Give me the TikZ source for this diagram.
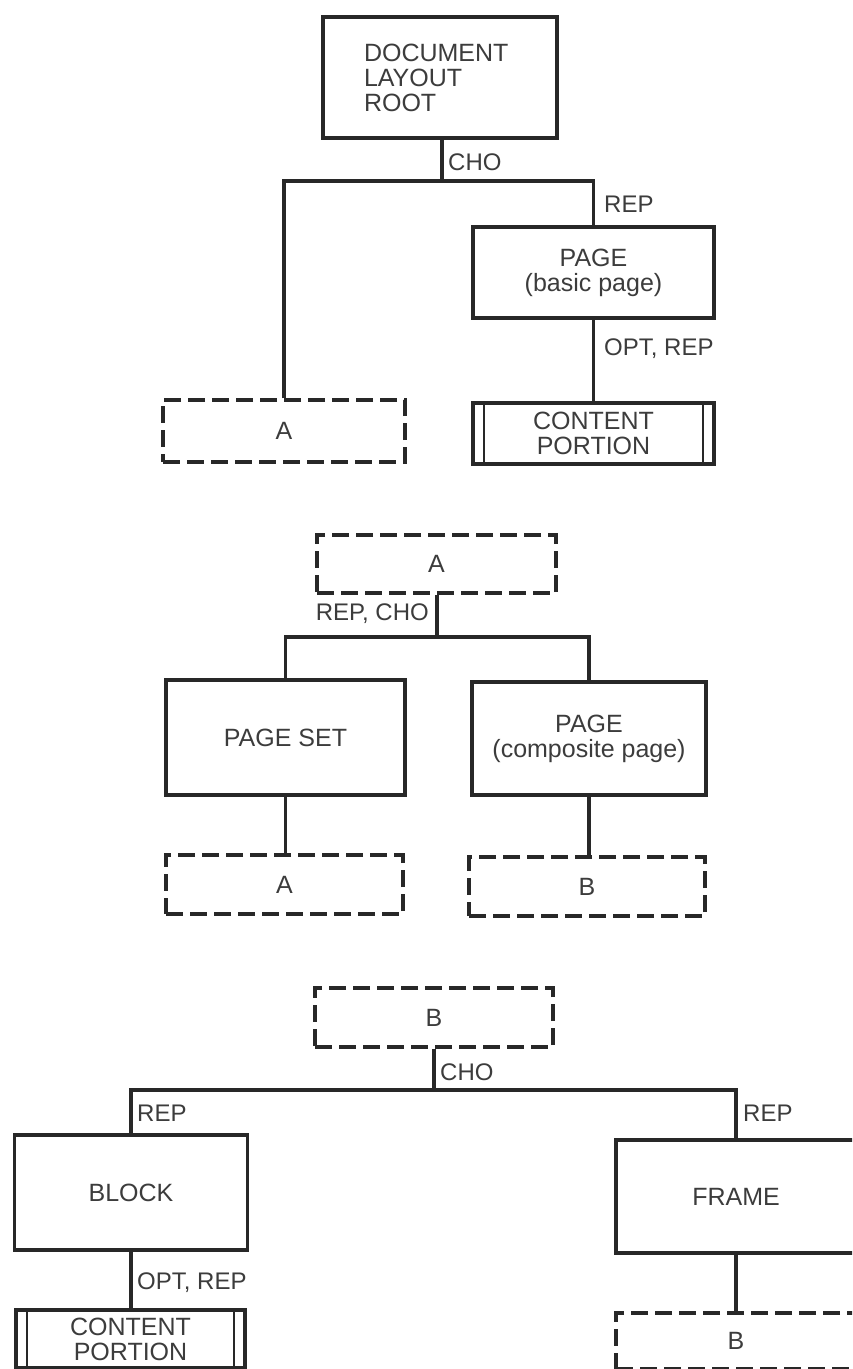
\documentclass[tikz,border=0pt]{standalone}
\usepackage{fontspec}
\setmainfont{Liberation Sans}
\definecolor{linec}{RGB}{40,40,40}
\definecolor{textc}{RGB}{60,60,60}
\begin{document}
\begin{tikzpicture}[x=1pt,y=-1pt,
  ln/.style={line width=3.4pt, draw=linec},
  box/.style={draw=linec, line width=3.4pt, rectangle, inner sep=0pt, align=center,
    font=\fontsize{25}{25}\selectfont, text=textc},
  dbox/.style={box, dash pattern=on 17pt off 7pt},
  cpbox/.style={box, path picture={
      \draw[linec, line width=1.8pt] ([xshift=11pt]path picture bounding box.north west) -- ([xshift=11pt]path picture bounding box.south west);
      \draw[linec, line width=1.8pt] ([xshift=-11pt]path picture bounding box.north east) -- ([xshift=-11pt]path picture bounding box.south east);}},
  lab/.style={font=\fontsize{24}{25}\selectfont, text=textc, inner sep=0pt},
]
\useasboundingbox (0,0) rectangle (852,1369);
\clip (0,0) rectangle (852,1369);

% ---------- top tree ----------
\node[box, minimum width=234pt, minimum height=121pt, text width=152pt, inner xsep=41pt, align=left]
  (root) at (440,77.5) {DOCUMENT\\LAYOUT\\ROOT};
\node[box, minimum width=241pt, minimum height=91pt] (pageb) at (593.5,272.5) {PAGE\\(basic page)};
\node[cpbox, minimum width=241pt, minimum height=61pt] (cp1) at (593.5,433.5) {CONTENT\\PORTION};
\node[dbox, minimum width=242pt, minimum height=62pt] (a1) at (284,431) {A};

\coordinate (j1) at (442,181);
\draw[ln] (root.south -| j1) -- (j1);
\draw[ln] (a1.north) |- (j1) -| (pageb.north);
\draw[ln] (pageb.south) -- (cp1.north);
\node[lab, anchor=west] (l1) at (448,162) {CHO};
\node[lab, anchor=west] (l2) at (604,204) {REP};
\node[lab, anchor=west] (l3) at (604,349) {OPT, REP};

% ---------- middle tree ----------
\node[dbox, minimum width=239pt, minimum height=58pt] (a2) at (436.5,564) {A};
\node[box, minimum width=239pt, minimum height=115pt] (pageset) at (285.5,737.5) {PAGE SET};
\node[box, minimum width=234pt, minimum height=113pt] (pagec) at (589,738.5) {PAGE\\(composite page)};
\node[dbox, minimum width=237pt, minimum height=59pt] (a3) at (284.5,884.5) {A};
\node[dbox, minimum width=236pt, minimum height=59pt] (b1) at (587,886.5) {B};

\coordinate (j2) at (437,637);
\draw[ln] (a2.south -| j2) -- (j2);
\draw[ln] (pageset.north) |- (j2) -| (pagec.north);
\draw[ln] (pageset.south) -- (pageset.south |- a3.north);
\draw[ln] (pagec.south) -- (pagec.south |- b1.north);
\node[lab, anchor=east] (l4) at (429,614) {REP, CHO};

% ---------- bottom tree ----------
\node[dbox, minimum width=238pt, minimum height=59pt] (b2) at (434,1017.5) {B};
\node[box, minimum width=233pt, minimum height=115pt] (block) at (131,1192.5) {BLOCK};
\node[box, minimum width=240pt, minimum height=113pt] (frame) at (736,1196.5) {FRAME};
\node[cpbox, minimum width=229pt, minimum height=58pt] (cp2) at (130.5,1339) {CONTENT\\PORTION};
\node[dbox, minimum width=240pt, minimum height=56pt] (b3) at (736,1341) {B};

\coordinate (j3) at (434,1090);
\draw[ln] (b2.south -| j3) -- (j3);
\draw[ln] (block.north) |- (j3) -| (frame.north);
\draw[ln] (block.south) -- (block.south |- cp2.north);
\draw[ln] (frame.south) -- (frame.south |- b3.north);
\node[lab, anchor=west] (l5) at (440,1072) {CHO};
\node[lab, anchor=west] (l6) at (137,1113) {REP};
\node[lab, anchor=west] (l7) at (743,1113) {REP};
\node[lab, anchor=west] (l8) at (137,1283) {OPT, REP};
\end{tikzpicture}
\end{document}
